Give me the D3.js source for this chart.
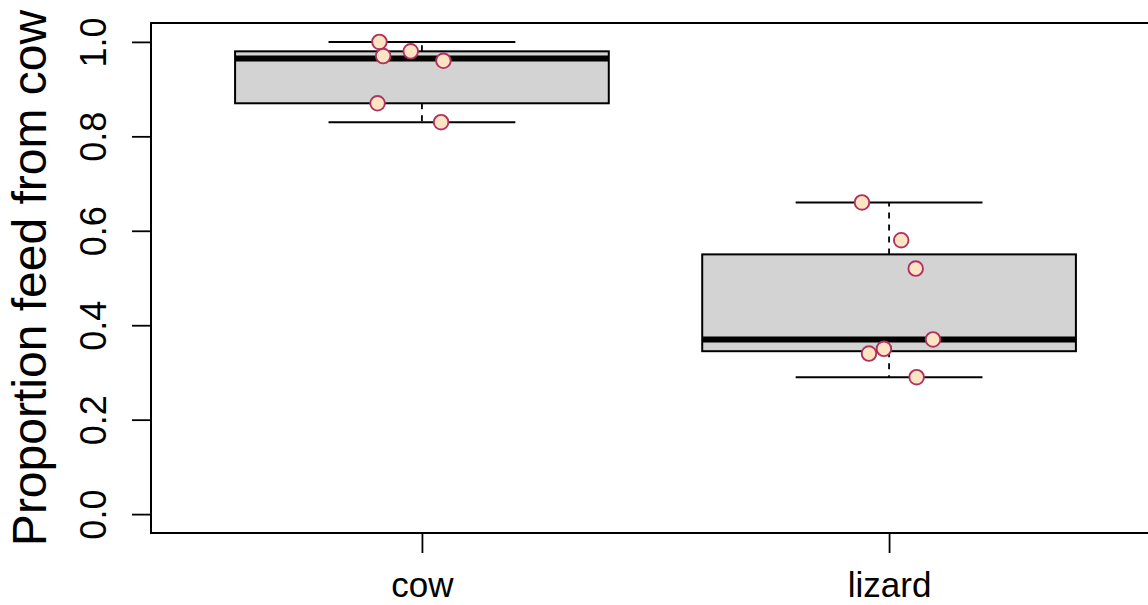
<!DOCTYPE html>
<html>
<head>
<meta charset="utf-8">
<script src="https://cdn.jsdelivr.net/npm/d3@7"></script>
<style>
  html, body { margin: 0; padding: 0; background: #fff; }
  text { font-family: "Liberation Sans", Arial, Helvetica, sans-serif; fill: #000; }
</style>
</head>
<body>
<svg id="chart" width="1148" height="605"></svg>
<script>
// Groups and observed proportions
const groups = ["cow", "lizard"];
const cowValues = [1.00, 0.98, 0.97, 0.96, 0.87, 0.83];
const lizardValues = [0.66, 0.58, 0.52, 0.37, 0.35, 0.34, 0.29];
// Horizontal jitter of each point (in group units)
const cowJitter = [-0.091, -0.024, -0.083, 0.046, -0.095, 0.041];
const lizardJitter = [-0.058, 0.026, 0.057, 0.094, -0.011, -0.043, 0.059];
const yTicks = [0, 0.2, 0.4, 0.6, 0.8, 1.0];
const yLabel = "Proportion feed from cow";

const seriesValues = [cowValues, lizardValues];
const seriesJitter = [cowJitter, lizardJitter];

const svg = d3.select("#chart");
const plotLeft = 151, plotRight = 1160, plotTop = 23, plotBottom = 533;

const x = d3.scaleLinear().domain([0.42, 2.58]).range([plotLeft, plotRight]);
const y = d3.scaleLinear().domain([-0.04, 1.04]).range([plotBottom, plotTop]);

// Tukey five-number summary (same rule as R's fivenum)
function fivenum(vals) {
  const s = vals.slice().sort((a, b) => a - b);
  const n = s.length;
  const n4 = Math.floor((n + 3) / 2) / 2;
  const d = [1, n4, (n + 1) / 2, n + 1 - n4, n];
  return d.map(p => 0.5 * (s[Math.floor(p) - 1] + s[Math.ceil(p) - 1]));
}

const boxHalf = 0.4, capHalf = 0.2;

// Plot frame
svg.append("rect")
  .attr("x", plotLeft).attr("y", plotTop)
  .attr("width", plotRight - plotLeft).attr("height", plotBottom - plotTop)
  .attr("fill", "none").attr("stroke", "#000").attr("stroke-width", 2);

const boxes = svg.append("g");
seriesValues.forEach((vals, i) => {
  const c = i + 1;
  const [lo, q1, med, q3, hi] = fivenum(vals);
  const g = boxes.append("g");
  // dashed whiskers
  g.append("line")
    .attr("x1", x(c)).attr("x2", x(c)).attr("y1", y(q3)).attr("y2", y(hi))
    .attr("stroke", "#000").attr("stroke-width", 1.8).attr("stroke-dasharray", "6,6");
  g.append("line")
    .attr("x1", x(c)).attr("x2", x(c)).attr("y1", y(q1)).attr("y2", y(lo))
    .attr("stroke", "#000").attr("stroke-width", 1.8).attr("stroke-dasharray", "6,6");
  // whisker caps
  [lo, hi].forEach(v => {
    g.append("line")
      .attr("x1", x(c - capHalf)).attr("x2", x(c + capHalf))
      .attr("y1", y(v)).attr("y2", y(v))
      .attr("stroke", "#000").attr("stroke-width", 2);
  });
  // box
  g.append("rect")
    .attr("x", x(c - boxHalf)).attr("y", y(q3))
    .attr("width", x(c + boxHalf) - x(c - boxHalf))
    .attr("height", y(q1) - y(q3))
    .attr("fill", "#d3d3d3").attr("stroke", "#000").attr("stroke-width", 2);
  // median
  g.append("line")
    .attr("x1", x(c - boxHalf)).attr("x2", x(c + boxHalf))
    .attr("y1", y(med)).attr("y2", y(med))
    .attr("stroke", "#000").attr("stroke-width", 6);
});

// Jittered observations
const pts = svg.append("g");
seriesValues.forEach((vals, i) => {
  vals.forEach((v, j) => {
    pts.append("circle")
      .attr("cx", x(i + 1 + seriesJitter[i][j]))
      .attr("cy", y(v))
      .attr("r", 7.3)
      .attr("fill", "#ffe4c4")
      .attr("stroke", "#b03060")
      .attr("stroke-width", 1.9);
  });
});

// Y axis
const yAxis = svg.append("g")
  .attr("transform", `translate(${plotLeft},0)`)
  .call(d3.axisLeft(y).tickValues(yTicks).tickFormat(d3.format(".1f")).tickSize(19).tickSizeOuter(0));
yAxis.select(".domain").remove();
yAxis.selectAll(".tick line").attr("stroke", "#000").attr("stroke-width", 1.8);
yAxis.selectAll(".tick text")
  .attr("transform", "rotate(-90)")
  .attr("x", 0).attr("y", -45).attr("dy", 0)
  .attr("text-anchor", "middle")
  .style("font-size", "36px");
yAxis.append("line")
  .attr("x1", 0).attr("x2", 0).attr("y1", y(0)).attr("y2", y(1))
  .attr("stroke", "#000").attr("stroke-width", 1.8);

// X axis
const xAxis = svg.append("g")
  .attr("transform", `translate(0,${plotBottom})`)
  .call(d3.axisBottom(x).tickValues([1, 2]).tickFormat(d => groups[d - 1]).tickSize(20).tickSizeOuter(0));
xAxis.select(".domain").remove();
xAxis.selectAll(".tick line").attr("stroke", "#000").attr("stroke-width", 1.8);
xAxis.selectAll(".tick text")
  .attr("y", 64).attr("dy", 0)
  .style("font-size", "35px");

// Y axis title
svg.append("text")
  .attr("transform", `translate(46,${(plotTop + plotBottom) / 2}) rotate(-90)`)
  .attr("text-anchor", "middle")
  .style("font-size", "48px")
  .text(yLabel);
</script>
</body>
</html>
